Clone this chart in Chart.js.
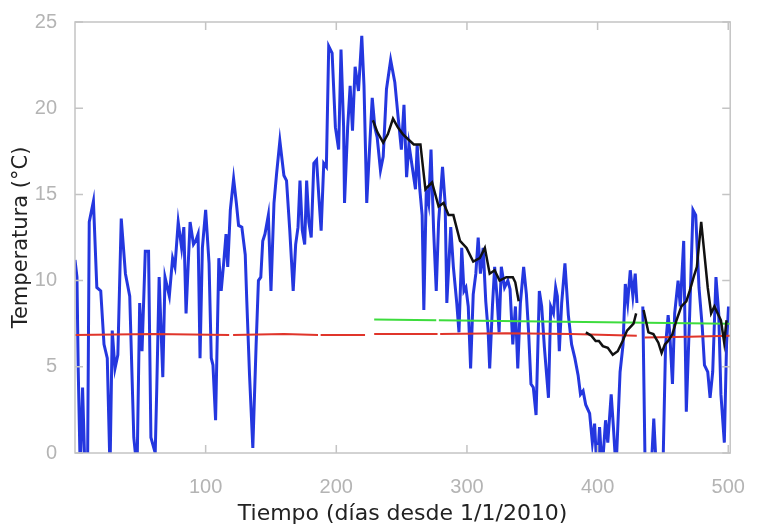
<!DOCTYPE html>
<html>
<head>
<meta charset="utf-8">
<script src="https://cdn.jsdelivr.net/npm/chart.js@4"></script>
<style>
  body { margin: 0; background: #fff; }
  canvas { display: block; }
</style>
</head>
<body>
<canvas id="chart" width="759" height="528"></canvas>
<script>
// Temperatura diaria (azul), media movil (negro), medias (rojo / verde)

const blueDays = [0, 1.5, 2.5, 4, 5.8, 7.6, 9.6, 10.9, 14.1, 16.7, 19.7, 22.2, 24.7, 26.8, 28.5, 30.6, 32.8, 35.4, 38.6, 41.9,
  45, 47.5, 49.5, 51.3, 53.8, 56.3, 58.1, 61.4, 62.6, 64.4, 67.2, 68.9, 72.2, 74.7, 76.5, 79, 81.6, 83.3, 85, 88.1,
  90.7, 92.4, 94.2, 95.7, 97.5, 100, 102.6, 104.3, 105.6, 107.6, 110.1, 111.9, 113.9, 115.6, 116.9, 118.9, 121.4, 123.5, 125.2, 127.7,
  130.3, 131.5, 133.6, 136.1, 138.6, 140.4, 142.2, 143.7, 145.4, 148, 150, 152.3, 154.3, 156.8, 159.9, 161.9, 164.4, 167, 168.9, 170.7,
  172.2, 174, 175.8, 177.3, 179, 180.8, 182.8, 184.9, 186.6, 188.4, 190.4, 192.4, 194.2, 196.8, 199.3, 201.8, 203.6, 205.6, 206.3, 208.7,
  210.6, 212.4, 214.4, 217, 219.5, 221.2, 223.3, 225, 227.5, 229.5, 231.3, 233.8, 235.9, 238.4, 241.6, 244.8, 247.3, 249.8, 251.8, 253.8,
  255.6, 258.1, 260.6, 261.9, 263.9, 265.7, 267, 268.9, 270.7, 272.5, 274.5, 276.5, 278.3, 281.3, 283.3, 284.6, 287.6, 289.6, 292.2, 293.9,
  296, 297.7, 299.2, 301, 302.8, 304.8, 306.8, 308.6, 310.3, 312.4, 314.4, 316.2, 317.4, 319.5, 321.2, 323, 324.6, 326.3, 328.8, 331.3,
  333, 335.1, 337.1, 338.9, 340.9, 343.4, 345.5, 347.2, 349, 350.8, 352.9, 355.4, 357.2, 359.3, 362.4, 364.1, 366.2, 367.9, 369.2, 370.7,
  372.5, 375, 377.6, 380.1, 382.6, 385.1, 386.9, 388.9, 390.9, 393.9, 396, 397.7, 399.5, 401.5, 403.5, 406.1, 407.8, 410.4, 412.1, 414.1,
  417.2, 419.5, 421.2, 423, 425, 427, 428.8, 430.1, 432, 434.6, 436.4, 441, 443, 445, 450, 452, 454, 455.2, 457.3, 459,
  461.6, 463.3, 465.9, 467.9, 470.5, 473, 475.1, 477.6, 480.1, 481.8, 484.3, 486.1, 488.1, 490.6, 492.7, 494.4, 497, 498.7, 500.2];
const blueTemps = [11.2, 10.2, 4.7, -1, 3.8, -1, -1, 13.4, 14.6, 9.6, 9.4, 6.3, 5.5, -1, 7.1, 4.9, 5.7, 13.6, 10.4, 9.1,
  0.9, -1, 8.7, 5.9, 11.7, 11.7, 0.9, 0, 3.8, 10.2, 4.4, 10.2, 9.1, 11.3, 10.8, 13.4, 11.9, 13.1, 8.1, 13.4,
  12.1, 12.3, 12.7, 5.5, 11.9, 14.1, 11.0, 5.5, 5.1, 1.9, 11.3, 9.4, 11.1, 12.7, 10.8, 14.1, 15.9, 14.5, 13.2, 13.1,
  11.5, 8.8, 4.5, 0.3, 6.2, 10.0, 10.2, 12.3, 12.7, 13.8, 9.4, 14.5, 16.2, 18.1, 16.1, 15.8, 12.9, 9.4, 12.1, 13.1,
  15.8, 12.9, 12.1, 15.8, 13.4, 12.5, 16.8, 17.0, 14.9, 12.9, 16.8, 16.6, 23.6, 23.2, 18.9, 17.6, 23.4, 18.9, 14.5, 18.9,
  21.3, 18.7, 22.4, 21.0, 24.2, 21.3, 14.5, 17.0, 20.6, 18.9, 18.3, 16.4, 17.2, 21.1, 22.8, 21.5, 19.5, 17.6, 20.2, 16.0,
  17.9, 16.6, 15.3, 17.9, 15.3, 13.8, 8.3, 15.3, 14.5, 17.6, 12.9, 9.4, 13.4, 16.6, 14.5, 8.7, 13.1, 10.8, 8.7, 7.0,
  11.9, 9.4, 9.6, 8.5, 4.9, 9.2, 10.4, 12.5, 10.4, 11.9, 8.8, 7.1, 4.9, 8.5, 10.8, 9.1, 7.0, 10.8, 9.6, 10.0,
  9.5, 6.3, 8.5, 4.9, 8.7, 10.8, 9.2, 7.0, 4.0, 3.8, 2.2, 9.4, 8.5, 6.1, 3.2, 8.5, 8.1, 9.6, 9.1, 5.9,
  8.7, 11.0, 8.0, 6.3, 5.5, 4.5, 3.4, 3.6, 2.8, 2.3, 0.6, 1.7, -1, 1.5, -1, 1.9, 0.6, 3.4, 1.5, -1,
  4.7, 6.3, 9.8, 8.7, 10.6, 9.1, 10.4, 8.7, null, 8.5, -1, -1, 2.0, -1, -1, 6.2, 8.0, 7.0, 4.0, 8.1,
  10.0, 8.5, 12.3, 2.4, 8.1, 14.1, 13.8, 9.6, 7.3, 5.1, 4.7, 3.2, 4.7, 10.2, 8.1, 3.4, 0.6, 6.3, 8.5];

const blackDays = [228, 231.5, 235.9, 239.5, 243.4, 247, 250.9, 255, 259.3, 264.4, 268.2, 273.3, 278.3, 282.1, 285.9, 289.6, 294.7, 299.7, 304.8, 309.8,
  313.7, 317.4, 321.2, 325, 330.1, 335.1, 337, 339.6, 365,
  391, 395.2, 398.5, 401, 404, 407.8, 411.6, 415.4, 419.2, 422.5, 427.5, 429.5, 432,
  435.2, 438.9, 442.7, 446.5, 449, 451.5, 454, 457.3, 460.4, 464.1, 467.9, 470.5, 473.5, 476, 479.3, 481.8, 484.3, 486.9,
  489.4, 491.9, 494.4, 496.9, 498.7];
const blackTemps = [19.3, 18.6, 18.0, 18.5, 19.4, 18.9, 18.5, 18.2, 17.9, 17.9, 15.3, 15.7, 14.3, 14.5, 13.8, 13.8, 12.3, 11.9, 11.1, 11.3,
  11.9, 10.4, 10.6, 10.0, 10.2, 10.2, 9.9, 8.8, null,
  7.0, 6.8, 6.5, 6.5, 6.2, 6.1, 5.7, 5.9, 6.5, 7.1, 7.5, 8.1, null,
  8.3, 7.0, 6.9, 6.4, 5.8, 6.3, 6.5, 6.9, 7.7, 8.5, 8.8, 9.4, 10.2, 10.8, 13.4, 11.5, 9.6, 8.1,
  8.5, 8.1, 7.7, 6.4, 7.7];

const redDays = [0, 60, 118, 119.5, 121, 160, 186, 187, 188, 222, 225, 229, 260, 277.5, 278.5, 279.5, 330, 380, 430, 433, 436, 470, 501.5];
const redTemps = [6.85, 6.9, 6.85, null, 6.85, 6.9, 6.85, null, 6.85, 6.85, null, 6.9, 6.9, 6.9, null, 6.9, 6.95, 6.9, 6.8, null, 6.7, 6.75, 6.8];

const greenDays = [229, 276.5, 277.5, 278.5, 501.5];
const greenTemps = [7.75, 7.7, null, 7.7, 7.5];

const xTicks = [100, 200, 300, 400, 500];
const yTicks = [0, 5, 10, 15, 20, 25];

const toPoints = (xs, ys) => xs.map((x, i) => ({ x: x, y: ys[i] }));

const lineStyle = (color, width, order) => ({
  borderColor: color,
  borderWidth: width,
  pointRadius: 0,
  tension: 0,
  spanGaps: false,
  clip: 0,
  order: order
});

// marco gris y marcas hacia dentro, estilo IDL
const framePlugin = {
  id: 'frame',
  afterDatasetsDraw(chart) {
    const { ctx, chartArea: a, scales } = chart;
    ctx.save();
    ctx.strokeStyle = '#c4c4c4';
    ctx.lineWidth = 1.5;
    ctx.strokeRect(a.left, a.top, a.right - a.left, a.bottom - a.top);
    ctx.beginPath();
    xTicks.forEach(v => {
      const px = scales.x.getPixelForValue(v);
      ctx.moveTo(px, a.bottom); ctx.lineTo(px, a.bottom - 8);
      ctx.moveTo(px, a.top); ctx.lineTo(px, a.top + 8);
    });
    yTicks.forEach(v => {
      const py = scales.y.getPixelForValue(v);
      ctx.moveTo(a.left, py); ctx.lineTo(a.left + 8, py);
      ctx.moveTo(a.right, py); ctx.lineTo(a.right - 8, py);
    });
    ctx.stroke();
    ctx.restore();
  }
};

new Chart(document.getElementById('chart'), {
  type: 'line',
  data: {
    datasets: [
      { data: toPoints(blackDays, blackTemps), ...lineStyle('#111111', 2.5, 0) },
      { data: toPoints(greenDays, greenTemps), ...lineStyle('#3ddc3d', 2, 1) },
      { data: toPoints(redDays, redTemps), ...lineStyle('#e0352b', 2, 2) },
      { data: toPoints(blueDays, blueTemps), ...lineStyle('#2437df', 3, 3) }
    ]
  },
  options: {
    responsive: false,
    animation: false,
    layout: { padding: { top: 12, right: 22, left: 0, bottom: 0 } },
    plugins: {
      legend: { display: false },
      tooltip: { enabled: false }
    },
    scales: {
      x: {
        type: 'linear',
        min: 0,
        max: 501.5,
        grid: { display: false },
        border: { display: false },
        afterBuildTicks: (s) => { s.ticks = xTicks.map(v => ({ value: v })); },
        afterFit: (s) => { s.height = 75; },
        ticks: {
          color: '#b4b4b4',
          padding: 14,
          maxRotation: 0,
          font: { family: 'Liberation Sans', size: 20 }
        },
        title: {
          display: true,
          text: 'Tiempo (días desde 1/1/2010)',
          color: '#222222',
          padding: { bottom: 1 },
          font: { family: 'DejaVu Sans', size: 22 }
        }
      },
      y: {
        min: 0,
        max: 25,
        grid: { display: false },
        border: { display: false },
        afterBuildTicks: (s) => { s.ticks = yTicks.map(v => ({ value: v })); },
        afterFit: (s) => { s.width = 75; },
        ticks: {
          color: '#b4b4b4',
          padding: 10,
          font: { family: 'Liberation Sans', size: 20 }
        },
        title: {
          display: true,
          text: 'Temperatura (°C)',
          color: '#222222',
          padding: { top: 9 },
          font: { family: 'DejaVu Sans', size: 21 }
        }
      }
    }
  },
  plugins: [framePlugin]
});
</script>
</body>
</html>
